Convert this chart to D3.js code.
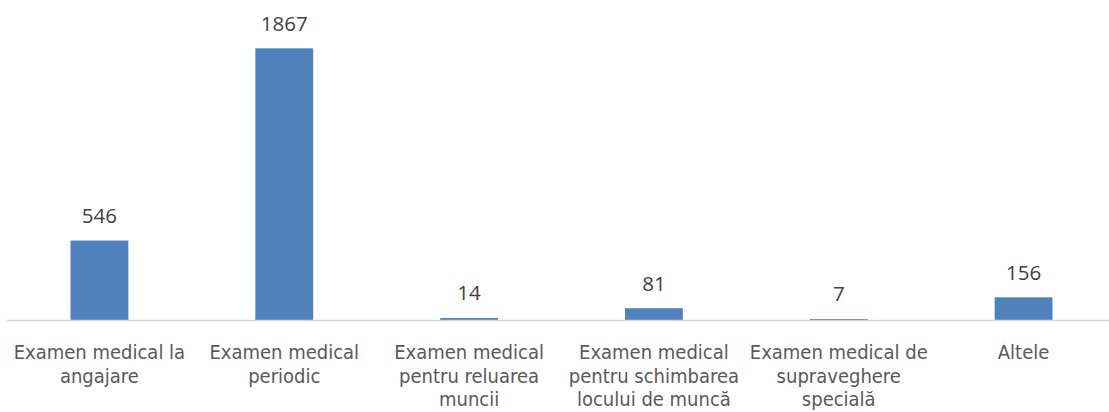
<!DOCTYPE html>
<html>
<head>
<meta charset="utf-8">
<script src="https://d3js.org/d3.v7.min.js"></script>
<style>
  body { margin: 0; background: #fff; }
</style>
</head>
<body>
<script>
// data
const categories = [
  "Examen medical la angajare",
  "Examen medical periodic",
  "Examen medical pentru reluarea muncii",
  "Examen medical pentru schimbarea locului de muncă",
  "Examen medical de supraveghere specială",
  "Altele"
];
const tickLines = [
  ["Examen medical la", "angajare"],
  ["Examen medical", "periodic"],
  ["Examen medical", "pentru reluarea", "muncii"],
  ["Examen medical", "pentru schimbarea", "locului de muncă"],
  ["Examen medical de", "supraveghere", "specială"],
  ["Altele"]
];
const values = [546, 1867, 14, 81, 7, 156];

const W = 1109, H = 412;
const svg = d3.select("body").append("svg")
  .attr("width", W).attr("height", H);

const x = d3.scaleBand()
  .domain(categories)
  .range([7, 1116])
  .paddingInner(0.687)
  .paddingOuter(0.3435);

const y = d3.scaleLinear()
  .domain([0, 2000])
  .range([320, 29]);

// bars
svg.selectAll("rect.bar")
  .data(values)
  .enter().append("rect")
  .attr("class", "bar")
  .attr("x", (d, i) => x(categories[i]))
  .attr("y", d => y(d))
  .attr("width", x.bandwidth())
  .attr("height", d => y(0) - y(d))
  .attr("fill", "#4f81bd");

// axis line
svg.append("line")
  .attr("x1", 7).attr("x2", 1116)
  .attr("y1", y(0) + 0.5).attr("y2", y(0) + 0.5)
  .attr("stroke", "#d9d9d9")
  .attr("stroke-width", 1.5);

// value labels
svg.selectAll("text.val")
  .data(values)
  .enter().append("text")
  .attr("class", "val")
  .attr("x", (d, i) => x(categories[i]) + x.bandwidth() / 2)
  .attr("y", d => y(d) - 17.5)
  .attr("text-anchor", "middle")
  .attr("font-family", "'Open Sans', sans-serif")
  .attr("font-size", 20.5)
  .attr("fill", "#404040")
  .text(d => d);

// category labels
const lbl = svg.selectAll("text.cat")
  .data(categories)
  .enter().append("text")
  .attr("class", "cat")
  .attr("text-anchor", "middle")
  .attr("font-family", "'DejaVu Sans Condensed', 'DejaVu Sans', sans-serif")
  .attr("font-size", 20)
  .attr("fill", "#595959");

lbl.each(function(d, i) {
  const cx = x(d) + x.bandwidth() / 2;
  d3.select(this).selectAll("tspan")
    .data(tickLines[i])
    .enter().append("tspan")
    .attr("x", cx)
    .attr("y", (t, j) => 359 + j * 23.5)
    .text(t => t);
});
</script>
</body>
</html>
